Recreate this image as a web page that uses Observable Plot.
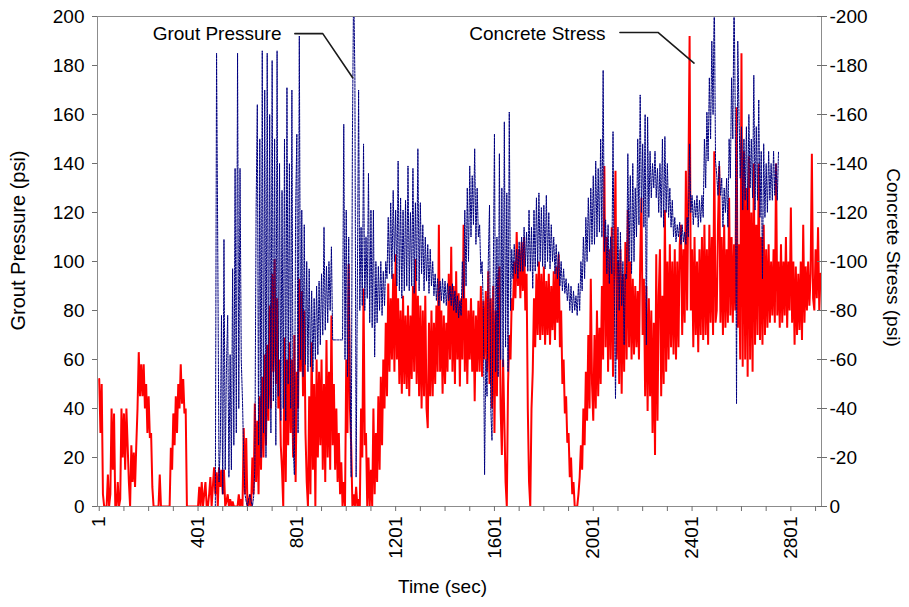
<!DOCTYPE html>
<html>
<head>
<meta charset="utf-8">
<script src="https://cdn.jsdelivr.net/npm/d3@7"></script>
<script src="https://cdn.jsdelivr.net/npm/@observablehq/plot@0.6"></script>
<style>
  html, body { margin: 0; padding: 0; background: #fff; }
  #chart svg { display: block; }
</style>
</head>
<body>
<div id="chart"></div>
<script>
// Logger interval (s) for both channels
const timeStep = 5;

// Concrete stress (psi, compression negative), logged from t = 1 s
const stressStart = 1;
const concreteStress = [
  -52, -30, -50, -5, 0, 0, 0, -13, 0, -5,
  -40, -15, -38, 0, 0, -10, 0, -3, -40, -20,
  -38, -15, -40, -25, -10, 0, -25, -10, -22, -8,
  -25, -40, -63, -45, -58, -45, -58, -40, -50, -30,
  -45, -28, -30, -8, 0, 0, 0, 0, 0, -13,
  0, 0, 0, 0, 0, 0, 0, 0, -24, -15,
  -38, -25, -45, -30, -50, -40, -58, -42, -52, -38,
  -40, 0, 0, 0, 0, 0, 0, 0, 0, 0,
  0, -8, 0, -10, 0, -5, -10, 0, 0, -5,
  -12, 0, -8, -16, -5, -14, 0, -16, -8, -15,
  -5, -15, 0, -2, -5, 0, -3, 0, -2, 0,
  0, 0, 0, -5, 0, -3, 0, -32, -5, -28,
  0, 0, -5, 0, -20, -5, -42, -10, -35, -5,
  -45, -15, -53, -20, -62, -25, -66, -35, -82, -40,
  -95, -55, -101, -50, -85, -40, -60, -25, -15, 0,
  -69, -10, -60, -25, -67, -30, -60, -20, -70, -10,
  -55, -40, -93, -55, -88, -45, -80, -30, -10, 0,
  -45, -5, -67, -15, -50, 0, -60, -20, -55, -25,
  -60, -15, -50, -10, -68, -20, -55, -15, -78, -25,
  -50, -15, -40, -10, -30, -5, -18, 0, -10, 0,
  -60, -30, -99, -40, -25, 0, -5, 0, -8, 0,
  -3, 0, -40, -20, -89, -25, -30, 0, -20, 0,
  -15, 0, -40, -5, -30, -10, -45, -15, -53, -25,
  -60, -40, -75, -45, -91, -55, -85, -60, -95, -55,
  -103, -60, -85, -50, -80, -46, -86, -50, -78, -48,
  -82, -45, -78, -52, -90, -55, -101, -50, -86, -45,
  -82, -40, -80, -45, -86, -40, -32, -75, -45, -80,
  -45, -75, -50, -82, -55, -115, -55, -80, -46, -78,
  -50, -75, -55, -95, -60, -106, -55, -90, -50, -96,
  -60, -87, -49, -85, -60, -115, -55, -85, -50, -80,
  -60, -85, -55, -80, -43, -78, -55, -84, -55, -90,
  -53, -84, -60, -88, -55, -96, -50, -85, -40, -90,
  -30, -80, -45, -92, -98, -40, -21, -60, -35, -10,
  0, -50, -70, -60, -85, -80, -100, -85, -112, -90,
  -105, -85, -108, -88, -110, -80, -95, -40, -10, 0,
  -40, -55, -85, -65, -95, -70, -100, -68, -95, -70,
  -98, -66, -92, -70, -95, -66, -90, -72, -96, -68,
  -98, -75, -103, -65, -80, -50, -60, -38, -45, -26,
  -30, -12, -20, -5, -10, 0, 0, 0, -5, -12,
  -25, -15, -40, -25, -55, -35, -70, -40, -93, -50,
  -35, -70, -40, -80, -45, -73, -50, -90, -60, -139,
  -65, -110, -55, -105, -60, -114, -53, -100, -137, -60,
  -100, -50, -105, -46, -95, -55, -108, -60, -121, -65,
  -100, -60, -93, -62, -90, -65, -88, -60, -100, -126,
  -70, -93, -45, -90, -39, -85, -45, -80, -30, -75,
  -21, -103, -35, -86, -105, -45, -86, -50, -121, -55,
  -100, -60, -107, -65, -100, -62, -105, -60, -100, -65,
  -107, -115, -70, -105, -75, -137, -80, -130, -192, -80,
  -105, -65, -110, -70, -100, -63, -105, -70, -110, -68,
  -115, -70, -105, -66, -115, -75, -110, -70, -145, -75,
  -80, -115, -139, -75, -110, -70, -115, -73, -105, -75,
  -126, -78, -110, -75, -107, -80, -163, -73, -107, -60,
  -185, -57, -145, -60, -130, -53, -143, -60, -120, -55,
  -140, -66, -115, -70, -140, -68, -110, -66, -115, -70,
  -105, -73, -107, -75, -100, -78, -105, -75, -140, -78,
  -100, -73, -107, -75, -100, -78, -110, -73, -100, -80,
  -122, -75, -100, -66, -98, -70, -95, -72, -100, -68,
  -115, -75, -98, -80, -100, -82, -95, -144, -85, -80,
  -105, -85, -114, -80, -95
];

// Grout pressure (psi), logged from t = 471 s
const groutStart = 471;
const groutPressure = [
  0, 185, 103, 10, 25, 78, 5, 109, 15, 57,
  78, 12, 62, 15, 97, 25, 138, 30, 185, 40,
  138, 60, 43, 20, 5, 2, 0, 3, 5, 2,
  0, 4, 16, 120, 164, 25, 150, 20, 186, 30,
  170, 20, 185, 40, 160, 30, 182, 43, 150, 25,
  186, 45, 140, 35, 129, 40, 150, 35, 171, 50,
  140, 40, 170, 25, 13, 120, 152, 30, 192, 60,
  121, 53, 115, 58, 100, 55, 97, 57, 88, 55,
  85, 60, 90, 62, 92, 66, 95, 70, 114, 72,
  98, 75, 100, 80, 106, 68, 68, 68, 68, 68,
  68, 68, 68, 68, 156, 60, 121, 53, 110, 60,
  12, 150, 215, 175, 12, 90, 170, 80, 114, 82,
  148, 80, 110, 85, 136, 75, 121, 73, 121, 61,
  100, 75, 98, 80, 100, 78, 96, 82, 100, 93,
  118, 95, 124, 93, 129, 100, 121, 90, 141, 88,
  126, 85, 121, 88, 125, 90, 139, 88, 120, 90,
  138, 87, 124, 92, 146, 88, 124, 95, 115, 88,
  110, 92, 107, 87, 105, 90, 100, 86, 95, 84,
  93, 82, 92, 84, 93, 83, 92, 82, 91, 84,
  90, 82, 91, 80, 88, 79, 86, 77, 84, 78,
  100, 85, 121, 90, 130, 100, 139, 110, 135, 115,
  146, 107, 130, 110, 115, 95, 100, 80, 13, 60,
  45, 100, 123, 40, 27, 90, 152, 55, 110, 53,
  144, 60, 130, 57, 157, 65, 128, 55, 161, 80,
  105, 93, 107, 95, 105, 93, 108, 96, 110, 96,
  114, 98, 112, 96, 121, 96, 114, 89, 121, 96,
  126, 98, 128, 100, 122, 98, 123, 97, 127, 100,
  120, 97, 115, 100, 110, 95, 107, 93, 104, 90,
  100, 88, 97, 87, 93, 84, 91, 80, 90, 79,
  88, 80, 86, 78, 91, 80, 100, 88, 110, 93,
  118, 100, 126, 104, 130, 107, 135, 107, 141, 110,
  138, 112, 150, 110, 178, 104, 117, 95, 115, 91,
  110, 95, 153, 90, 44, 85, 114, 80, 112, 82,
  100, 66, 95, 93, 144, 100, 135, 95, 140, 100,
  130, 110, 150, 115, 168, 120, 148, 114, 160, 66,
  159, 118, 145, 126, 140, 130, 145, 126, 138, 120,
  140, 118, 150, 114, 151, 120, 140, 118, 130, 114,
  125, 110, 118, 108, 115, 110, 116, 107, 115, 108,
  112, 107, 118, 110, 148, 120, 127, 115, 125, 118,
  127, 114, 125, 116, 127, 118, 150, 130, 161, 141,
  175, 150, 190, 160, 210, 141, 135, 127, 141, 127,
  134, 114, 130, 120, 134, 114, 150, 134, 175, 150,
  210, 160, 42, 190, 160, 134, 155, 121, 150, 125,
  155, 121, 160, 130, 150, 126, 176, 121, 155, 125,
  166, 118, 145, 93, 148, 118, 140, 120, 145, 125,
  140, 125, 145, 127, 140, 125, 145
];

// Axis ticks
const timeTicks = [1, 401, 801, 1201, 1601, 2001, 2401, 2801];
const timeMinorTicks = [101, 201, 301, 501, 601, 701, 901, 1001, 1101, 1301, 1401, 1501,
  1701, 1801, 1901, 2101, 2201, 2301, 2501, 2601, 2701, 2901];
const pressureTicks = [0, 20, 40, 60, 80, 100, 120, 140, 160, 180, 200];
const stressTicks = [0, -20, -40, -60, -80, -100, -120, -140, -160, -180, -200];

// Series callouts: label anchor and leader path (time s, psi on the left scale)
const calloutLabels = ["Grout Pressure", "Concrete Stress"];
const calloutTime = [478, 1775];
const calloutLevel = [193, 193];
const leaderSeries = ["grout", "grout", "grout", "stress", "stress", "stress"];
const leaderTime = [793, 906, 1027, 2109, 2263, 2409];
const leaderLevel = [193, 193, 175, 193.5, 193.5, 181];

const stressRows = concreteStress.map((s, i) => ({t: stressStart + i * timeStep, s}));
const groutRows = groutPressure.map((p, i) => ({t: groutStart + i * timeStep, p}));
const callouts = calloutLabels.map((label, i) => ({label, t: calloutTime[i], v: calloutLevel[i]}));
const leaders = leaderSeries.map((series, i) => ({series, t: leaderTime[i], v: leaderLevel[i]}));

const axisGray = "#6e6e6e";
const fontFamily = "'Liberation Sans', Arial, Helvetica, sans-serif";

const chart = Plot.plot({
  width: 909,
  height: 607,
  marginLeft: 97,
  marginRight: 88,
  marginTop: 16,
  marginBottom: 101,
  style: {fontFamily, fontSize: "19px", color: "#000", background: "#fff"},
  x: {domain: [-6, 2925]},
  y: {domain: [0, 200]},
  marks: [
    // Concrete stress is plotted by magnitude against the inverted right axis
    Plot.lineY(stressRows, {x: "t", y: d => -d.s, stroke: "#ff0000", strokeWidth: 2,
      strokeLinejoin: "miter", strokeMiterlimit: 2, clip: true}),
    Plot.lineY(groutRows, {x: "t", y: "p", stroke: "#000080", strokeWidth: 1,
      strokeDasharray: "2.2,1.2", clip: true}),
    Plot.frame({stroke: "#8c8c8c"}),
    Plot.axisY({anchor: "left", ticks: pressureTicks, tickSize: 5, tickPadding: 8,
      tickFormat: d => String(d), label: null, stroke: axisGray}),
    Plot.axisY({anchor: "right", ticks: stressTicks.map(s => -s), tickSize: 10, dx: -5,
      tickFormat: () => "", label: null, stroke: axisGray}),
    Plot.axisY({anchor: "right", ticks: stressTicks.map(s => -s), tickSize: 0, tickPadding: 8,
      tickFormat: v => String(-v), label: null}),
    Plot.axisX({ticks: timeMinorTicks, tickSize: 5, tickFormat: () => "", label: null, stroke: axisGray}),
    Plot.axisX({ticks: timeTicks, tickSize: 5, tickPadding: 5, tickRotate: -90,
      tickFormat: d => String(d), label: null, stroke: axisGray}),
    Plot.line(leaders, {x: "t", y: "v", z: "series", stroke: "#1a1a1a", strokeWidth: 1.6}),
    Plot.text(callouts, {x: "t", y: "v", text: "label", fontSize: 19, fill: "#000"}),
    Plot.text(["Grout Pressure (psi)"], {text: d => d, frameAnchor: "left", textAnchor: "middle",
      dx: -79, dy: -21, rotate: -90, fontSize: 20}),
    Plot.text(["Concrete Stress (psi)"], {text: d => d, frameAnchor: "right", textAnchor: "middle",
      dx: 72, dy: -4, rotate: 90, fontSize: 19}),
    Plot.text(["Time (sec)"], {text: d => d, frameAnchor: "bottom", dy: 86, dx: -17, fontSize: 19})
  ]
});

document.getElementById("chart").append(chart);
</script>
</body>
</html>
